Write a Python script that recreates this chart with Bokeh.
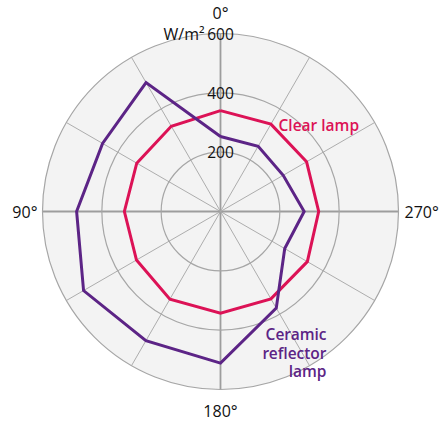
import numpy as np
from bokeh.plotting import figure
from bokeh.embed import file_html
from bokeh.resources import INLINE
from bokeh.core.properties import value

# Data (angles in degrees, 0 at top, increasing counter-clockwise)
angles = [0, 30, 60, 90, 120, 150, 180, 210, 240, 270, 300, 330]
clear_lamp = [340, 332, 326, 324, 327, 341, 343, 340, 338, 331, 335, 340]
ceramic_lamp = [253, 502, 459, 485, 533, 503, 511, 376, 250, 282, 244, 254]
ring_values = [200, 400, 600]
ring_labels = ["200", "400", "600"]
spoke_angles = list(range(0, 360, 30))
axis_labels = ["0°", "90°", "180°", "270°"]
axis_label_angles = [0, 90, 180, 270]
unit_label = "W/m²"
r_max = 600

RED = "#dc1256"
PURPLE = "#5c2486"
FONT = value("Open Sans")
SEMI = value("Open Sans SemiBold")

W, H = 443, 421
scale = 178.0 / r_max  # px per unit
cx, cy = 220, 211
p = figure(width=W, height=H, output_backend="svg", toolbar_location=None,
           x_range=(-cx / scale, (W - cx) / scale),
           y_range=(-(H - cy) / scale, cy / scale),
           min_border=0, outline_line_color=None, background_fill_color="white")
p.axis.visible = False
p.grid.visible = False


def to_xy(a_deg, r):
    a = np.radians(np.asarray(a_deg, dtype=float))
    r = np.asarray(r, dtype=float)
    return -r * np.sin(a), r * np.cos(a)

# disc background
p.circle(x=[0], y=[0], radius=[r_max], fill_color="#f3f3f3", line_color=None)

# spokes
sx, sy = to_xy(spoke_angles, [r_max] * len(spoke_angles))
major = [a % 90 == 0 for a in spoke_angles]
p.segment(x0=[0] * len(sx), y0=[0] * len(sy), x1=list(sx), y1=list(sy),
          line_color=["#9d9d9d" if m else "#adadad" for m in major],
          line_width=[1.8 if m else 1.0 for m in major])

# rings
p.circle(x=[0] * len(ring_values), y=[0] * len(ring_values), radius=ring_values,
         fill_color=None, line_color="#a6a6a6", line_width=1.2)

# series
for vals, col in [(clear_lamp, RED), (ceramic_lamp, PURPLE)]:
    x, y = to_xy(angles + [angles[0]], vals + [vals[0]])
    p.line(x=list(x), y=list(y), line_color=col, line_width=3, line_join="miter")

# ring labels on top spoke
p.text(x=[0] * len(ring_values), y=ring_values, text=ring_labels,
       text_align="center", text_baseline="middle", text_font=FONT,
       text_font_size="15.5px", text_color="#111111")
p.text(x=[-16 / scale], y=[r_max], text=[unit_label], text_align="right",
       text_baseline="middle", text_font=FONT, text_font_size="16px",
       text_color="#111111")

# angle labels
ax_x, ax_y = to_xy(axis_label_angles, [r_max] * 4)
offs = [(0, 21), (-5, 0), (0, -21), (6, 0)]
aligns = ["center", "right", "center", "left"]
for lx, ly, t, (dx, dy), al in zip(ax_x, ax_y, axis_labels, offs, aligns):
    p.text(x=[lx + dx / scale], y=[ly + dy / scale], text=[t], text_align=al,
           text_baseline="middle", text_font=FONT, text_font_size="16px",
           text_color="#111111")

# series labels
p.text(x=[58 / scale], y=[(cy - 124) / scale], text=["Clear lamp"],
       text_align="left", text_baseline="middle", text_font=SEMI,
       text_font_size="15.5px", text_color=RED)
cer_lines = ["Ceramic", "reflector", "lamp"]
cer_y = [333, 352, 370]
p.text(x=[106 / scale] * 3, y=[(cy - v) / scale for v in cer_y], text=cer_lines,
       text_align="right", text_baseline="middle", text_font=SEMI,
       text_font_size="15.5px", text_color=PURPLE)

open("out.html", "w").write(file_html(p, INLINE))
